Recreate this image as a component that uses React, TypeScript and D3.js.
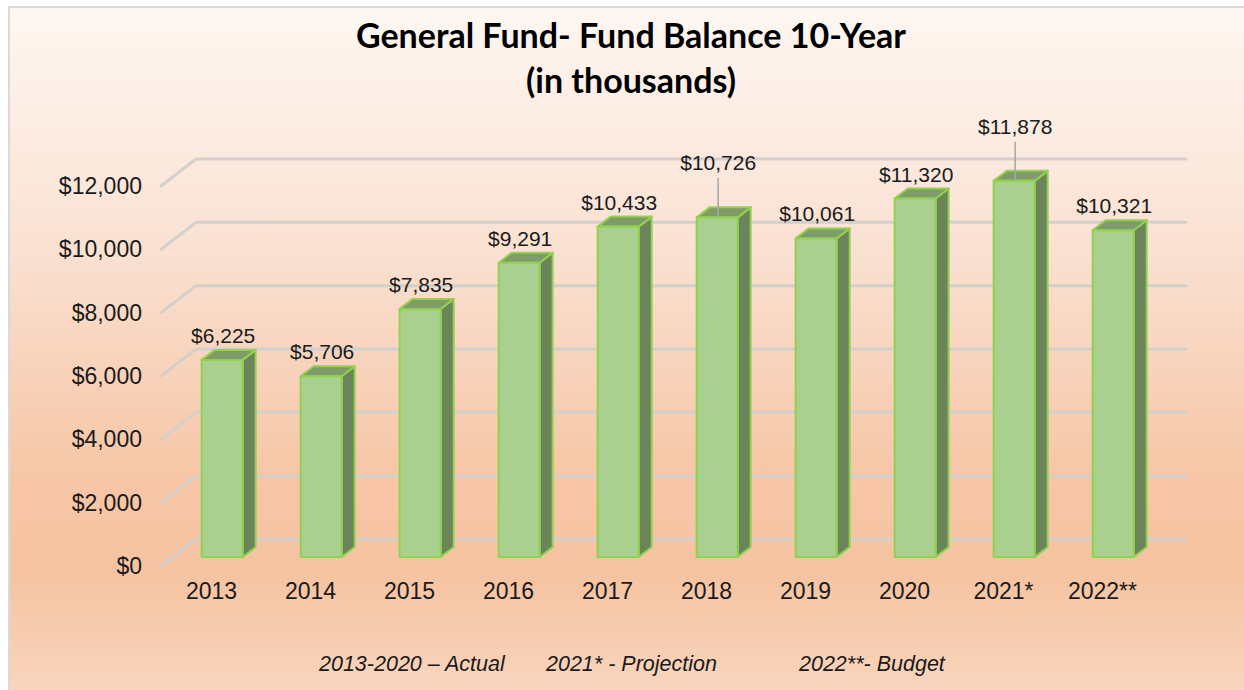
import { useEffect, useRef } from "react";
import * as d3 from "d3";

const categories = ["2013", "2014", "2015", "2016", "2017", "2018", "2019", "2020", "2021*", "2022**"];
const balances = [6225, 5706, 7835, 9291, 10433, 10726, 10061, 11320, 11878, 10321];
const yTicks = [0, 2000, 4000, 6000, 8000, 10000, 12000];
const liftedLabels = ["2018", "2021*"]; // labels pulled up with a leader line
const titleLines = ["General Fund- Fund Balance 10-Year", "(in thousands)"];
const footnotes = ["2013-2020 \u2013 Actual", "2021* - Projection", "2022**- Budget"];

const W = 1244;
const H = 690;

export default function App() {
  const ref = useRef<SVGSVGElement>(null);

  useEffect(() => {
    const svg = d3.select(ref.current);
    svg.selectAll("*").remove();

    // background panel
    const defs = svg.append("defs");
    const grad = defs
      .append("linearGradient")
      .attr("id", "bg")
      .attr("x1", 0)
      .attr("y1", 0)
      .attr("x2", 0)
      .attr("y2", 1);
    [
      [0, "#fef7f2"],
      [0.35, "#fae1d2"],
      [0.68, "#f6c6a6"],
      [0.82, "#f5c3a1"],
      [1, "#f9d6bf"],
    ].forEach(([o, c]) => grad.append("stop").attr("offset", o).attr("stop-color", c));

    svg.append("rect").attr("width", W).attr("height", H).attr("fill", "#ffffff");
    svg
      .append("rect")
      .attr("x", 9)
      .attr("y", 7)
      .attr("width", W)
      .attr("height", H)
      .attr("fill", "url(#bg)")
      .attr("stroke", "#d9d9d9")
      .attr("stroke-width", 2);

    // 3D geometry: back wall, oblique depth
    const depthX = 35;
    const depthY = 27;
    const x = d3.scaleBand<string>().domain(categories).range([196, 1186]);
    const y = d3.scaleLinear().domain([0, 12000]).range([539, 159]);

    // gridlines on back wall + floor slant
    const grid = svg.append("g");
    yTicks.forEach((t) => {
      const gy = y(t);
      grid
        .append("path")
        .attr("d", `M${196 - depthX},${gy + depthY} L196,${gy} L1186,${gy}`)
        .attr("fill", "none")
        .attr("stroke", "#d3cfcc")
        .attr("stroke-width", 3)
        .attr("stroke-linecap", "round")
        .attr("stroke-linejoin", "round");
    });

    // y-axis labels (front plane)
    svg
      .append("g")
      .selectAll("text")
      .data(yTicks)
      .join("text")
      .attr("x", 142)
      .attr("y", (d) => y(d) + depthY + 8)
      .attr("text-anchor", "end")
      .attr("font-family", "Liberation Sans, Arial, sans-serif")
      .attr("font-size", 23)
      .attr("fill", "#1a1a1a")
      .text((d) => "$" + d3.format(",")(d));

    // category labels (front plane)
    svg
      .append("g")
      .selectAll("text")
      .data(categories)
      .join("text")
      .attr("x", (d) => x(d)! + x.bandwidth() / 2 - depthX + 1)
      .attr("y", 599)
      .attr("text-anchor", "middle")
      .attr("font-family", "Liberation Sans, Arial, sans-serif")
      .attr("font-size", 23)
      .attr("fill", "#1a1a1a")
      .text((d) => d);

    // bars
    const barW = 41;
    const frontShift = (depthX * 18) / depthY; // bar front face depth
    const frontDrop = 18;
    const sideX = 13;
    const sideY = 10;
    const stroke = "#92d050";
    const bars = svg.append("g");
    const barX = (c: string) => x(c)! + (x.bandwidth() - barW) / 2 - frontShift;
    categories.forEach((c, i) => {
      const x0 = barX(c);
      const x1 = x0 + barW;
      const yT = y(balances[i]) + frontDrop;
      const yB = y(0) + frontDrop;
      const g = bars.append("g").attr("stroke", stroke).attr("stroke-width", 2).attr("stroke-linejoin", "round");
      g.append("path")
        .attr("d", `M${x1},${yT} L${x1 + sideX},${yT - sideY} L${x1 + sideX},${yB - sideY} L${x1},${yB} Z`)
        .attr("fill", "#6b8459");
      g.append("path")
        .attr("d", `M${x0},${yT} L${x0 + sideX},${yT - sideY} L${x1 + sideX},${yT - sideY} L${x1},${yT} Z`)
        .attr("fill", "#7f9b6a");
      g.append("rect")
        .attr("x", x0)
        .attr("y", yT)
        .attr("width", barW)
        .attr("height", yB - yT)
        .attr("fill", "#a9d08e");
    });

    // data labels
    const labels = svg.append("g");
    categories.forEach((c, i) => {
      const cx = barX(c) + barW / 2 + 1;
      const yT = y(balances[i]) + frontDrop;
      const lifted = liftedLabels.includes(c);
      const ly = yT - sideY - 7 - (lifted ? 30 : 0);
      if (lifted) {
        labels
          .append("line")
          .attr("x1", cx)
          .attr("x2", cx)
          .attr("y1", ly + 8)
          .attr("y2", yT)
          .attr("stroke", "#a6a6a6")
          .attr("stroke-width", 1.5);
      }
      labels
        .append("text")
        .attr("x", cx)
        .attr("y", ly)
        .attr("text-anchor", "middle")
        .attr("font-family", "Liberation Sans, Arial, sans-serif")
        .attr("font-size", 21)
        .attr("fill", "#1a1a1a")
        .text("$" + d3.format(",")(balances[i]));
    });

    // title
    svg
      .append("g")
      .selectAll("text")
      .data(titleLines)
      .join("text")
      .attr("x", 631)
      .attr("y", (_, i) => 48 + i * 45)
      .attr("text-anchor", "middle")
      .attr("font-family", "Lato, sans-serif")
      .attr("font-weight", 700)
      .attr("font-size", 34)
      .attr("fill", "#000000")
      .text((d) => d);

    // footnotes
    const footX = [319, 546, 799];
    svg
      .append("g")
      .selectAll("text")
      .data(footnotes)
      .join("text")
      .attr("x", (_, i) => footX[i])
      .attr("y", 671)
      .attr("font-family", "Liberation Sans, Arial, sans-serif")
      .attr("font-style", "italic")
      .attr("font-size", 21.5)
      .attr("fill", "#1a1a1a")
      .text((d) => d);
  }, []);

  return (
    <svg
      ref={ref}
      width={W}
      height={H}
      style={{ position: "absolute", left: 0, top: 0, display: "block" }}
    />
  );
}
